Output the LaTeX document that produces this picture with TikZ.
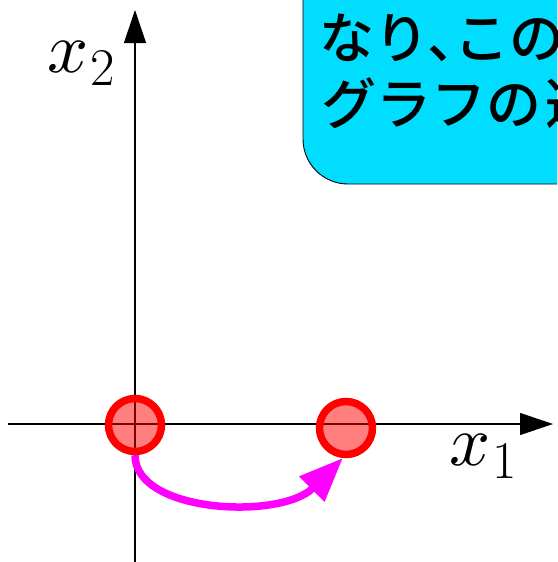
\documentclass[tikz,border=0pt]{standalone}
\usepackage{graphicx}
\usepackage{fontspec}
\usetikzlibrary{arrows.meta}
\newfontfamily\cjk{Noto Sans CJK JP Medium}
\definecolor{boxcyan}{RGB}{0,221,255}
\definecolor{vividmagenta}{RGB}{255,0,255}
\tikzset{
  axisline/.style={draw=black, line width=1.1pt, -{Triangle[length=33pt,width=22pt]}},
  circleshape/.style={circle, minimum size=53pt, inner sep=0pt, line width=7.5pt},
  statecircle/.style={circleshape, draw=red, fill=red, fill opacity=0.5, draw opacity=1},
  movearrow/.style={draw=vividmagenta, line width=7.5pt, -{Triangle[length=44pt,width=34pt]}},
  notebox/.style={fill=boxcyan, draw=black, line width=0.9pt, rounded corners=45pt},
  cjktext/.style={anchor=base west, inner sep=0pt, font=\cjk\fontsize{55}{66}\selectfont},
  axislabel/.style={anchor=base west, inner sep=0pt}
}
\begin{document}
\begin{tikzpicture}[x=1pt,y=-1pt]
\useasboundingbox (0,0) rectangle (557,562);
\clip (0,0) rectangle (557,562);
% note box (clipped at the top and the right)
\path[notebox] (303,-80) rectangle (660,184);
\node[cjktext] (l1) at (319,58) {なり、\kern-0.5emこの};
\node[cjktext] (l2) at (321,124) {グラフの\kern4pt遷};
% axes
\coordinate (xs) at (8,424);
\coordinate (xe) at (553,424);
\coordinate (ys) at (135,565);
\coordinate (ye) at (135,10);
\draw[axisline] (xs) -- (xe);
\draw[axisline] (ys) -- (ye);
% states
\node[statecircle] (a) at (135,425) {};
\node[circleshape] (b) at (346,428) {};
\draw[movearrow] (a.south) .. controls +(0,58) and +(-62,62) .. (b.264);
\node[statecircle] (bvis) at (b) {};
% axis labels
\node[axislabel] (lx2) at (47,72) {\scalebox{7.2}{$x$}\kern2pt\raisebox{-13pt}{\fontsize{53}{53}\selectfont 2}};
\node[axislabel] (lx1) at (449,465) {\scalebox{7.2}{$x$}\kern2pt\raisebox{-13pt}{\fontsize{53}{53}\selectfont 1}};
\end{tikzpicture}
\end{document}
